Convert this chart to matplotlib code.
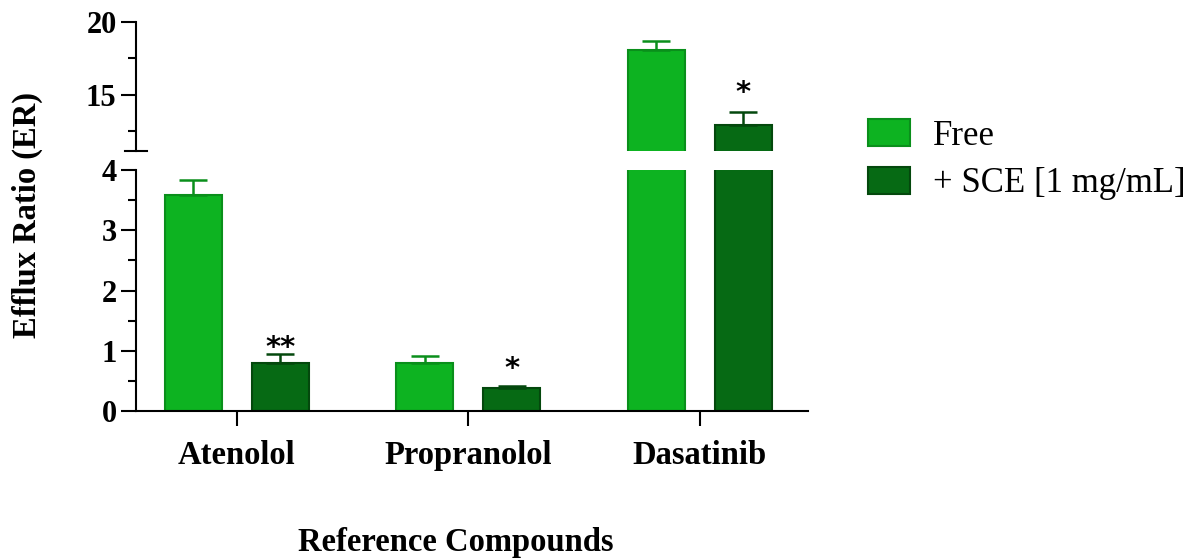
import numpy as np
import matplotlib.pyplot as plt
from matplotlib.ticker import MultipleLocator

plt.rcParams['font.family'] = ['Liberation Serif', 'DejaVu Serif']

compounds = ['Atenolol', 'Propranolol', 'Dasatinib']
free_mean = [3.58, 0.80, 18.1]
free_sd = [0.25, 0.12, 0.60]
sce_mean = [0.79, 0.38, 12.95]
sce_sd = [0.16, 0.04, 0.85]
sce_stars = ['**', '*', '*']
series_names = ['Free', '+ SCE [1 mg/mL]']

free_color, free_edge = '#0db321', '#0a8f1b'
sce_color, sce_edge = '#066a14', '#04480d'

fig = plt.figure(figsize=(11.94, 5.58), dpi=100)
ax_lo = fig.add_axes([0.1139, 0.2634, 0.5628, 0.4319])
ax_hi = fig.add_axes([0.1139, 0.7294, 0.5628, 0.2312])

x = np.arange(len(compounds))
w = 0.246
off = 0.188
star_lift = [-1.5, 6, 8]  # points above the error cap, per compound

for ax in (ax_lo, ax_hi):
    ax.bar(x - off, free_mean, w, color=free_color, edgecolor=free_edge, linewidth=1.5,
           yerr=[np.zeros(3), free_sd], ecolor=free_edge,
           error_kw=dict(capsize=10, elinewidth=1.8, capthick=1.8), label=series_names[0])
    ax.bar(x + off, sce_mean, w, color=sce_color, edgecolor=sce_edge, linewidth=1.5,
           yerr=[np.zeros(3), sce_sd], ecolor=sce_edge,
           error_kw=dict(capsize=10, elinewidth=1.8, capthick=1.8), label=series_names[1])
    for i in range(3):
        top = sce_mean[i] + sce_sd[i]
        ax.annotate(sce_stars[i], (x[i] + off, top), xytext=(0, star_lift[i]),
                    textcoords='offset points', ha='center', va='baseline',
                    fontsize=21, fontweight='bold', family='DejaVu Sans',
                    annotation_clip=True, clip_on=True)
    ax.set_xlim(-0.436, 2.467)
    for s in ('top', 'right'):
        ax.spines[s].set_visible(False)
    ax.spines['left'].set_linewidth(1.5)
    ax.spines['bottom'].set_linewidth(1.5)
    ax.tick_params(axis='y', which='major', length=11, width=1.5, labelsize=22, pad=3)
    ax.tick_params(axis='y', which='minor', length=6, width=1.5)

ax_lo.set_ylim(0, 4)
ax_lo.yaxis.set_major_locator(MultipleLocator(1))
ax_lo.yaxis.set_minor_locator(MultipleLocator(0.5))
ax_lo.set_xticks(x)
ax_lo.set_xticklabels(compounds, fontsize=23.5, fontweight='bold')
ax_lo.tick_params(axis='x', length=11, width=1.5, pad=10)

ax_hi.set_ylim(11.16, 20)
ax_hi.yaxis.set_major_locator(MultipleLocator(5))
ax_hi.yaxis.set_minor_locator(MultipleLocator(2.5))
ax_hi.spines['bottom'].set_visible(False)
ax_hi.set_xticks([])

for ax in (ax_lo, ax_hi):
    for lab in ax.get_yticklabels():
        lab.set_fontweight('bold')

# break mark at the bottom of the upper axis
ax_hi.plot([-0.016, 0.016], [0, 0], transform=ax_hi.transAxes, color='black',
           lw=1.5, clip_on=False)

fig.text(0.023, 0.615, 'Efflux Ratio (ER)', rotation=90, ha='center', va='center',
         fontsize=23.5, fontweight='bold')
fig.text(0.382, 0.028, 'Reference Compounds', ha='center', va='center',
         fontsize=23.5, fontweight='bold')

handles, labels = ax_lo.get_legend_handles_labels()
fig.legend(handles, labels, loc='upper left', bbox_to_anchor=(0.727, 0.787),
           frameon=False, fontsize=25, handlelength=1.2, handleheight=0.84,
           handletextpad=0.66, labelspacing=0.4, borderaxespad=0, borderpad=0)

fig.savefig('out.png', dpi=100)
